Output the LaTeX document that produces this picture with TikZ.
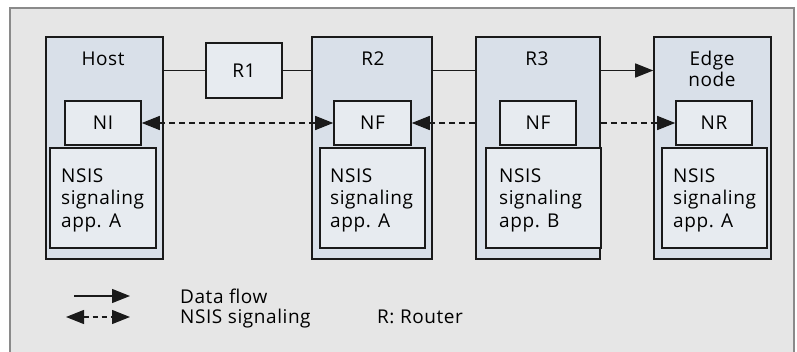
\documentclass[tikz,border=0pt]{standalone}
\usepackage{fontspec}
\setmainfont{Open Sans}[LetterSpace=3]
\usetikzlibrary{arrows.meta}
\definecolor{bgc}{HTML}{E6E6E6}
\definecolor{framec}{HTML}{8A8A8A}
\definecolor{bigc}{HTML}{D9E0E9}
\definecolor{smallc}{HTML}{E7EBF0}
\definecolor{linec}{HTML}{1A1A1A}
\tikzset{
  bigbox/.style={draw=linec, line width=1.6pt, fill=bigc, inner sep=0pt},
  smallbox/.style={draw=linec, line width=1.6pt, fill=smallc, inner sep=0pt},
  lbl/.style={anchor=base, inner sep=0pt},
  apptext/.style={anchor=base west, align=left, inner sep=0pt},
  dataflow/.style={draw=linec, line width=1.3pt},
  sig/.style={draw=linec, line width=1.3pt, dash pattern=on 6pt off 4pt},
  tip/.style={-{Triangle[length=18pt,width=14pt]}},
  tips/.style={{Triangle[length=18pt,width=14pt]}-{Triangle[length=18pt,width=14pt]}},
}
\begin{document}
\begin{tikzpicture}[x=1pt,y=-1pt,font=\fontsize{19}{22.5}\selectfont]
\useasboundingbox (0,0) rectangle (797,351);
\clip (0,0) rectangle (797,351);
\fill[white] (0,0) rectangle (797,351);
\draw[fill=bgc, draw=framec, line width=1.5pt] (10,8) rectangle (794,360);

% big boxes
\node[bigbox, minimum width=117pt, minimum height=222pt] (host) at (104.5,148) {};
\node[bigbox, minimum width=120pt, minimum height=222pt] (r2) at (372,148) {};
\node[bigbox, minimum width=124pt, minimum height=222pt] (r3) at (538,148) {};
\node[bigbox, minimum width=117pt, minimum height=222pt] (edge) at (712.5,148) {};
\node[smallbox, minimum width=76pt, minimum height=55pt] (r1) at (244,70.5) {R1};

% labels
\node[lbl] (hostl) at (103,65) {Host};
\node[lbl] (r2l) at (373,65) {R2};
\node[lbl] (r3l) at (537,65) {R3};
\node[anchor=base, align=center, inner sep=0pt, font=\fontsize{19}{21}\selectfont] (edgel) at (712,86) {Edge\\node};

% data flow
\draw[dataflow] (host.east |- r1.west) -- (r1.west);
\draw[dataflow] (r1.east) -- (r2.west |- r1.east);
\draw[dataflow] (r2.east |- r1.east) -- (r3.west |- r1.east);
\draw[dataflow, tip] (r3.east |- r1.east) -- (edge.west |- r1.east);

% inner boxes
\node[smallbox, minimum width=76pt, minimum height=44pt] (ni) at (103,123) {NI};
\node[smallbox, minimum width=77pt, minimum height=44pt] (nf2) at (372.5,123) {NF};
\node[smallbox, minimum width=76pt, minimum height=44pt] (nf3) at (538,123) {NF};
\node[smallbox, minimum width=76pt, minimum height=44pt] (nr) at (714,123) {NR};

% signaling
\draw[sig, tips] (ni.east) -- (nf2.west);
\draw[sig, tip] (r3.west |- nf3.west) -- (nf2.east);
\draw[sig, tip] (r3.east |- nf3.east) -- (nr.west);

% app boxes
\node[smallbox, minimum width=106pt, minimum height=100pt] (apph) at (103,198) {};
\node[smallbox, minimum width=105pt, minimum height=100pt] (app2) at (372.5,198) {};
\node[smallbox, minimum width=115pt, minimum height=100pt] (app3) at (543.5,198) {};
\node[smallbox, minimum width=105pt, minimum height=100pt] (appe) at (714.5,198) {};
\node[apptext] (apphl) at (61,227) {NSIS\\signaling\\app. A};
\node[apptext] (app2l) at (330,227) {NSIS\\signaling\\app. A};
\node[apptext] (app3l) at (499,227) {NSIS\\signaling\\app. B};
\node[apptext] (appel) at (673,227) {NSIS\\signaling\\app. A};

% legend
\coordinate (ld1) at (74,296);
\coordinate (ld2) at (130,296);
\coordinate (ls1) at (66,317);
\coordinate (ls2) at (130,317);
\draw[dataflow, tip] (ld1) -- (ld2);
\draw[sig, tips, dash pattern=on 5pt off 4pt] (ls1) -- (ls2);
\node[anchor=base west, inner sep=0pt] (lg1) at (180,303) {Data flow};
\node[anchor=base west, inner sep=0pt] (lg2) at (180,323) {NSIS signaling};
\node[anchor=base west, inner sep=0pt] (lg3) at (377,323) {R: Router};
\end{tikzpicture}
\end{document}
